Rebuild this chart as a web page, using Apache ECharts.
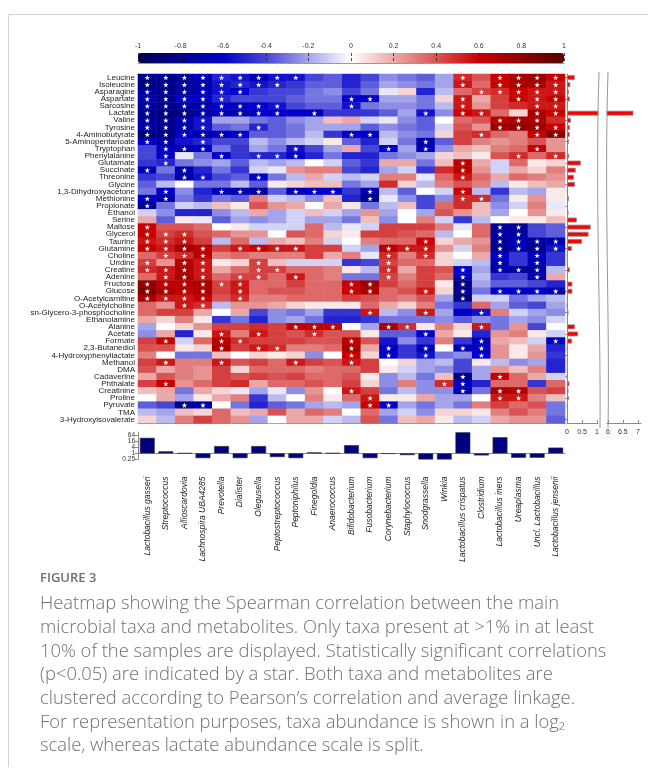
<!DOCTYPE html>
<html><head><meta charset="utf-8">
<script src="https://cdn.jsdelivr.net/npm/echarts@6/dist/echarts.min.js"></script>
<style>html,body{margin:0;padding:0;background:#fff}#c{width:648px;height:774px}</style>
</head><body><div id="c"></div>
<script>
const metabolites = ['Leucine','Isoleucine','Asparagine','Aspartate','Sarcosine','Lactate','Valine','Tyrosine','4-Aminobutyrate','5-Aminopentanoate','Tryptophan','Phenylalanine','Glutamate','Succinate','Threonine','Glycine','1,3-Dihydroxyacetone','Methionine','Propionate','Ethanol','Serine','Maltose','Glycerol','Taurine','Glutamine','Choline','Uridine','Creatine','Adenine','Fructose','Glucose','O-Acetylcarnitine','O-Acetylcholine','sn-Glycero-3-phosphocholine','Ethanolamine','Alanine','Acetate','Formate','2,3-Butanediol','4-Hydroxyphenyllactate','Methanol','DMA','Cadaverine','Phthalate','Creatinine','Proline','Pyruvate','TMA','3-Hydroxyisovalerate'];

const taxa = ['Lactobacillus gasseri','Streptococcus','Allioscardovia','Lachnospira UBA4285','Prevotella','Dialister','Olegusella','Peptostreptococcus','Peptoniphilus','Finegoldia','Anaerococcus','Bifidobacterium','Fusobacterium','Corynebacterium','Staphylococcus','Snodgrassella','Winkia','Lactobacillus crispatus','Clostridium','Lactobacillus iners','Ureaplasma','Uncl. Lactobacillus','Lactobacillus jensenii'];

// Spearman correlation, one row per metabolite, one column per taxon
const corr = [
[-0.8,-0.8,-0.75,-0.65,-0.5,-0.55,-0.65,-0.55,-0.55,-0.4,-0.35,-0.5,-0.4,-0.25,-0.3,-0.35,-0.2,0.5,0.4,0.6,0.7,0.75,0.6],
[-0.85,-0.8,-0.75,-0.7,-0.55,-0.5,-0.55,-0.5,-0.45,-0.35,-0.35,-0.5,-0.35,-0.2,-0.25,-0.3,-0.2,0.55,0.35,0.6,0.7,0.7,0.55],
[-0.75,-0.8,-0.75,-0.65,-0.55,-0.6,-0.45,-0.4,-0.4,-0.3,-0.25,-0.4,-0.3,-0.05,0.1,-0.5,-0.15,0.35,0.45,0.5,0.6,0.55,0.55],
[-0.7,-0.8,-0.6,-0.6,-0.5,-0.4,-0.4,-0.4,-0.35,-0.3,-0.3,-0.6,-0.6,-0.2,-0.2,-0.3,0.1,0.55,0.2,0.45,0.6,0.55,0.6],
[-0.75,-0.8,-0.75,-0.75,-0.6,-0.65,-0.6,-0.55,-0.4,-0.35,-0.35,-0.55,-0.3,-0.25,-0.25,-0.3,-0.15,0.55,0.25,0.45,0.5,0.55,0.55],
[-0.8,-0.85,-0.85,-0.7,-0.7,-0.7,-0.6,-0.6,-0.6,-0.65,-0.45,-0.45,-0.45,-0.35,-0.2,-0.55,-0.25,0.6,0.55,0.35,0.1,0.7,0.6],
[-0.75,-0.8,-0.7,-0.55,-0.2,-0.2,-0.3,-0.35,-0.25,-0.2,0.15,0.2,-0.1,-0.05,-0.25,-0.35,0,0.35,0.4,0.65,0.7,0.7,0.5],
[-0.7,-0.8,-0.7,-0.55,-0.35,-0.3,-0.5,-0.35,-0.3,-0.2,-0.2,-0.2,-0.35,-0.25,-0.3,-0.35,-0.1,0.4,0.25,0.75,0.8,0.75,0.6],
[-0.9,-0.8,-0.6,-0.7,-0.65,-0.6,-0.35,-0.35,-0.3,-0.15,-0.45,-0.6,-0.6,-0.15,-0.25,-0.3,0.1,0.45,0.5,0.35,0.3,0.6,0.85],
[-0.6,-0.75,-0.55,-0.5,-0.4,-0.4,-0.15,-0.25,-0.15,-0.1,0.05,-0.35,-0.5,-0.1,-0.3,-0.7,-0.35,0.45,0.3,0.25,0.3,0.4,0.25],
[-0.4,-0.6,-0.7,-0.6,-0.3,-0.45,-0.2,-0.3,-0.55,-0.4,-0.2,0.2,-0.4,-0.6,-0.2,-0.65,-0.25,0.2,0.15,0.3,0.35,0.6,0.25],
[-0.4,-0.6,-0.05,-0.3,-0.6,-0.45,-0.5,-0.5,-0.6,-0.5,-0.3,-0.5,-0.5,-0.3,-0.25,-0.2,0.1,0.15,0.05,0.4,0.5,0.35,0.5],
[-0.45,-0.5,-0.3,-0.25,-0.2,-0.35,-0.15,-0.2,-0.15,0,-0.1,-0.35,-0.45,0.2,0.2,-0.3,0.15,0.65,0.2,-0.1,0.35,0.05,0.1],
[-0.65,-0.3,-0.7,-0.5,-0.3,-0.45,-0.1,-0.05,0.25,0.3,0.3,-0.4,-0.5,-0.2,-0.1,-0.45,0.5,0.65,0.25,-0.1,0.2,0.1,0.3],
[-0.45,-0.4,-0.7,-0.55,-0.4,-0.35,-0.6,-0.3,-0.15,0.2,-0.1,-0.15,-0.1,0.3,0.3,-0.05,0.35,0.55,0.35,0.2,0.35,0.3,0.25],
[-0.35,-0.15,0,-0.3,-0.3,-0.15,-0.35,0.05,0.1,0.15,0.15,-0.3,-0.2,0.5,0.1,-0.15,0.3,0.4,0.3,-0.15,0.05,0.15,0.2],
[-0.3,-0.6,-0.25,-0.5,-0.65,-0.7,-0.75,-0.35,-0.65,-0.6,-0.6,-0.45,-0.7,-0.15,-0.35,0,-0.1,0.6,-0.15,-0.45,-0.15,-0.2,0.05],
[-0.6,-0.7,-0.3,-0.45,-0.3,-0.35,0.3,-0.1,-0.15,-0.25,0.15,-0.5,-0.8,-0.05,-0.25,-0.4,-0.25,0.5,0.5,-0.3,0.05,0.25,0.05],
[-0.75,-0.3,-0.1,-0.15,0.15,0.05,0.4,0.25,0.2,0,0.2,0.05,-0.3,-0.15,0.15,-0.4,0.35,0.5,0.15,-0.25,-0.1,0.3,-0.05],
[-0.1,-0.25,-0.5,-0.5,-0.25,-0.15,0.2,-0.2,-0.1,0.15,-0.1,-0.2,0.25,-0.2,0,-0.2,0.4,0.25,0.15,-0.2,0,0.25,0.05],
[0.2,-0.35,0.05,-0.05,-0.35,-0.2,-0.25,-0.2,-0.1,-0.2,-0.2,-0.3,0.15,-0.25,0,0.3,-0.1,-0.45,-0.15,0,0.05,0.05,0.15],
[0.6,0.4,0.4,0.35,0,0.05,-0.1,-0.1,-0.1,0.35,-0.15,-0.05,-0.1,0.45,0.45,0.45,0.3,-0.05,0.35,-0.75,-0.75,-0.4,-0.35],
[0.6,0.45,0.5,0.4,0.35,0.25,0.25,0,0.4,0.35,0.1,0.05,0.45,0.45,0.4,0.35,-0.15,0,0.35,-0.75,-0.75,-0.4,-0.35],
[0.55,0.5,0.55,0.45,-0.15,0.35,-0.15,0.2,0.15,0.3,-0.1,0,0.3,0.35,0.35,0.6,0.1,0.2,0.25,-0.75,-0.65,-0.75,-0.7],
[0.6,0.55,0.75,0.65,0.45,0.55,0.6,0.55,0.55,0.45,0.45,-0.1,-0.2,0.65,0.55,0.55,0.25,-0.1,0.3,-0.8,-0.7,-0.8,-0.55],
[0.35,0.45,0.5,0.65,0.3,0.35,0.3,0.3,0.3,0.45,0.2,0.3,-0.05,0.5,0.3,0.5,0.1,0,0.2,-0.6,-0.45,-0.65,-0.45],
[0.45,0.25,0.65,0.55,0.05,0.1,0.45,0.15,-0.1,-0.1,-0.1,-0.45,-0.4,0.45,0.35,0.35,0.1,-0.1,-0.15,-0.7,-0.45,-0.65,-0.45],
[0.5,0.55,0.7,0.55,0.2,0.35,0.45,0.45,0.35,0.35,0.3,0.05,-0.15,0.5,0.2,0.45,0.4,-0.6,-0.2,-0.7,-0.75,-0.75,-0.15],
[0.35,0.55,0.7,0.55,0.35,0.45,0.45,0.35,0.55,0.35,0.3,-0.3,-0.3,0.45,0.3,0.45,0.35,-0.65,-0.15,-0.45,-0.4,-0.7,0.2],
[0.8,0.65,0.65,0.7,0.45,0.55,0.35,0.35,0.45,0.35,0.35,0.6,0.75,0.45,0.35,0.45,0.05,-0.85,-0.2,-0.35,-0.35,-0.4,-0.5],
[0.85,0.7,0.65,0.7,0.45,0.55,0.35,0.4,0.4,0.35,0.35,0.6,0.7,0.35,0.4,0.55,0.1,-0.8,-0.3,-0.6,-0.6,-0.6,-0.7],
[0.7,0.55,0.55,0.6,0.4,0.5,0.3,0.3,0.35,0.35,0.35,0.45,0.4,0.35,0.3,0.4,-0.2,-0.85,-0.1,-0.1,-0.3,-0.2,-0.15],
[0.35,0.25,0.55,0.5,-0.15,0.25,0.25,0.2,0.1,0.05,0.05,0.05,0.35,0.2,0.1,0.3,-0.3,-0.45,0.35,-0.2,-0.35,-0.4,-0.2],
[0.35,0.45,0.45,0.2,0,0.2,-0.4,-0.25,-0.3,-0.2,-0.45,-0.45,0.55,-0.15,-0.25,0.55,-0.2,-0.6,-0.55,0.3,-0.1,-0.2,-0.25],
[0.2,0.1,0.3,0.05,-0.45,-0.3,-0.5,-0.25,-0.2,-0.3,-0.5,-0.5,-0.45,-0.3,-0.3,-0.3,-0.25,-0.35,-0.25,-0.3,-0.2,-0.25,-0.1],
[-0.2,0,0.1,0.25,0.45,0.45,0.5,0.45,0.6,0.6,0.6,0,-0.2,0.7,0.5,0.05,0.3,0.1,0.55,-0.3,0.25,-0.4,0],
[-0.25,0.2,-0.5,0.05,0.55,0.3,0.55,0.45,0.4,0.5,0.4,0.4,0.05,-0.35,-0.35,-0.6,0.2,0.05,-0.5,0.25,0.3,0.05,-0.1],
[0.45,0.6,-0.1,0.35,0.65,0.5,0.45,0.45,0.45,0.4,0.4,0.65,0.4,-0.55,-0.25,-0.45,0.3,-0.45,-0.7,0.2,0.15,-0.1,-0.65],
[0.4,0.4,0.05,0.1,0.7,0.45,0.55,0.5,0.3,0.3,0.35,0.7,0.2,-0.6,-0.45,-0.65,0,-0.7,-0.6,0.25,0.05,0.2,-0.5],
[0.3,0,-0.3,-0.3,0.15,0,0.1,0.05,0.1,-0.25,0,0.6,0.1,-0.6,-0.45,-0.55,-0.3,-0.25,-0.6,0.25,0.05,0.25,-0.45],
[0.45,0.55,0.3,0.3,0.55,0.4,0.45,0.35,0.55,0.45,0.4,0.55,0.45,0,0.1,-0.2,-0.15,-0.4,0.05,-0.15,-0.25,-0.2,-0.5],
[0.4,0.2,0.3,0.25,0.45,0.1,0.35,0.35,0.35,0.3,0.35,0.35,0.45,0.05,-0.1,-0.2,-0.25,-0.4,-0.2,0.25,0.15,0.3,-0.5],
[0.2,0.4,0.3,0.25,0.45,0.4,0.45,0.4,0.45,0.35,0.35,0.4,0.05,-0.25,-0.15,-0.3,0.15,-0.85,-0.2,0.6,0.35,0.2,-0.1],
[0.45,0.6,0.25,0.35,0.45,0.5,0.2,0.35,0.35,0.4,0.35,0.45,0.1,-0.25,0.3,-0.25,0.5,-0.65,-0.5,0.35,0.35,-0.45,0.35],
[0.15,0.2,-0.3,0.2,0.1,-0.05,-0.2,-0.05,-0.25,0.25,0,0.55,0.45,-0.3,-0.15,-0.25,-0.25,-0.7,-0.3,0.7,0.65,0.4,0.45],
[0,0.2,-0.2,0.05,0.2,0.3,-0.45,-0.15,0,0.3,0.05,0.35,0.55,0.05,0.05,0.2,-0.2,-0.2,0,0.55,0.55,0.3,0.15],
[-0.35,-0.4,-0.8,-0.7,0,-0.3,-0.5,-0.35,-0.3,-0.2,-0.15,-0.2,0.6,-0.6,-0.2,-0.3,-0.2,-0.3,0.3,0.45,0.35,0.4,-0.3],
[-0.15,-0.2,0.15,0.1,0.35,0.15,0.2,0.4,0.2,0.35,0.3,0,0.35,-0.2,-0.1,-0.25,0.1,0.1,0.05,0.3,0.4,0.3,-0.3],
[0.1,-0.15,0.3,0.45,0.35,0.25,-0.2,0,0.2,0.2,-0.1,-0.15,0.4,-0.3,0.15,0.2,0.05,-0.15,-0.1,0.2,0.25,0.25,-0.35]
];

// columns (taxon index) with p<0.05, per metabolite row
const sigCols = [
[0,1,2,3,4,5,6,7,8,17,19,20,21,22],[0,1,2,3,4,5,6,7,17,19,20,21,22],[0,1,2,3,4,5,18,19,20,21,22],
[0,1,2,3,4,11,12,17,20,21,22],[0,1,2,3,4,5,6,7,11,17,21,22],[0,1,2,3,4,5,6,7,9,15,17,18,21,22],
[0,1,2,3,19,20,21],[0,1,2,3,6,19,20,21,22],[0,1,2,3,4,5,11,12,18,21,22],[0,1,3,15],
[1,2,3,8,13,15,21],[1,4,6,7,8,20,22],[1,17],[0,2,17],[2,3,6,17],[],[1,4,5,6,8,9,10,12,17],
[0,1,12,17,18],[0],[],[],[0,19,20],[0,1,2,19,20],[0,1,2,15,19,20,21,22],
[0,1,2,3,5,6,7,8,13,14,15,19,20,21,22],[1,2,3,13,15,19,21],[0,2,3,6,13,19,21],
[0,1,2,3,6,7,13,17,19,20,21],[1,2,3,5,6,8,13,17,21],[0,1,2,3,4,5,11,12,17],
[0,1,2,3,5,11,12,15,17,19,20,21,22],[0,1,2,3,5,17],[2,3],[12,15,18],[],
[8,9,10,13,14,18],[4,6,9,15],[1,4,5,11,18,22],[4,6,7,11,13,15,17,18],[11,13,15,18],
[1,4,8,11],[],[17,19],[1,16,17],[11,17,19,20],[12,19,20],[2,3,12,13],[],[]
];

// metabolite abundance (right bars), lactate scale split
const metaboliteAbundance = [0.26,0.11,0.06,0.09,0.02,6.85,0.13,0.09,0.09,0.06,0.03,0.07,0.46,0.29,0.23,0.27,0.02,0.06,0.03,0.05,0.33,0.79,0.72,0.5,0.16,0.02,0.03,0.09,0.03,0.18,0.18,0.02,0.01,0.05,0.03,0.27,0.37,0.17,0.02,0.03,0.02,0.02,0.01,0.08,0.05,0.06,0.02,0.03,0.02];

// taxa abundance (bottom bars), shown on log2 scale
const taxaAbundance = [34,1.6,1.03,0.34,5.3,0.34,5.3,0.43,0.34,1.25,1.07,6.5,0.34,0.93,0.68,0.25,0.25,120,0.63,39,0.37,0.37,3.7];

const colorbarTicks = [-1,-0.8,-0.6,-0.4,-0.2,0,0.2,0.4,0.6,0.8,1];
const lowSegmentTicks = [0,0.5,1];
const highSegmentTicks = [6,6.5,7];
const taxaLog2TicksA = [-2,2,6];   // 0.25, 4, 64
const taxaLog2TicksB = [0,4];      // 1, 16

const captionTitle = 'FIGURE 3';
const captionLines = [
 'Heatmap showing the Spearman correlation between the main',
 'microbial taxa and metabolites. Only taxa present at >1% in at least',
 '10% of the samples are displayed. Statistically significant correlations',
 '(p<0.05) are indicated by a star. Both taxa and metabolites are',
 'clustered according to Pearson\u2019s correlation and average linkage.',
 'For representation purposes, taxa abundance is shown in a log\u2082',
 'scale, whereas lactate abundance scale is split.'
];

const heatData = [];
corr.forEach((row, i) => row.forEach((v, j) => heatData.push([j, i, v])));
const starData = [];
sigCols.forEach((cols, i) => cols.forEach(j => starData.push([j, i])));

const STAR = 'path://M50,0 L61,35 L98,35 L68,57 L79,91 L50,70 L21,91 L32,57 L2,35 L39,35 Z';
const AX = '#8a8a8a';
const FONT = '"Liberation Sans", Arial, sans-serif';

const chart = echarts.init(document.getElementById('c'), null, {renderer: 'canvas'});

const capGraphics = [
  {type:'line', shape:{x1:8.5,y1:14.5,x2:648,y2:14.5}, style:{stroke:'#d2d2d2', lineWidth:1}},
  {type:'line', shape:{x1:8.5,y1:14.5,x2:8.5,y2:767}, style:{stroke:'#d2d2d2', lineWidth:1}},
  {type:'text', x:40, y:572, style:{text:captionTitle, font:'600 13px "Open Sans", sans-serif', fill:'#6f6f6f'}},
  {type:'bezierCurve', shape:{x1:599,y1:72,cpx1:595,cpy1:200,cpx2:601,cpy2:320,x2:600,y2:428}, style:{stroke:'#999', lineWidth:1, fill:null}},
  {type:'bezierCurve', shape:{x1:608,y1:72,cpx1:604,cpy1:200,cpx2:610,cpy2:320,x2:608,y2:428}, style:{stroke:'#999', lineWidth:1, fill:null}}
];
captionLines.forEach((t, k) => capGraphics.push({
  type:'text', x:40, y:595 + k*23.7,
  style:{text:t, font:'300 18.4px "Open Sans", sans-serif', fill:'#707070'}
}));

const log2Label = v => String(Math.pow(2, v));

const option = {
  animation: false,
  backgroundColor: '#fff',
  textStyle: {fontFamily: FONT},
  grid: [
    {left:138, top:74, width:427, height:349},
    {left:138, top:53, width:426, height:10},
    {left:567, top:74, width:31, height:349},
    {left:607, top:74, width:34, height:349},
    {left:138, top:432, width:427, height:27.5}
  ],
  visualMap: [{
    type:'continuous', min:-1, max:1, seriesIndex:0, dimension:2,
    orient:'horizontal', left:138, top:53, itemWidth:10, itemHeight:426,
    padding:0, calculable:false, hoverLink:false, showLabel:false, text:null,
    inRange:{color:['#00004a','#000090','#0000c8','#4646d6','#a4a4ea','#ffffff','#eaa8a8','#d85454','#c80000','#900000','#560000']}
  }],
  xAxis: [
    {gridIndex:0, type:'category', data:taxa, position:'top',
      axisLine:{lineStyle:{color:AX}}, axisTick:{inside:true, length:3, alignWithLabel:true, lineStyle:{color:AX}},
      axisLabel:{show:false}, splitLine:{show:false}},
    {gridIndex:0, type:'category', data:taxa, position:'bottom',
      axisLine:{lineStyle:{color:AX}}, axisTick:{inside:true, length:3, alignWithLabel:true, lineStyle:{color:AX}},
      axisLabel:{show:false}, splitLine:{show:false}},
    {gridIndex:1, type:'value', min:-1, max:1, interval:0.2, position:'top', z:10,
      axisLine:{show:true, lineStyle:{color:'#999'}}, axisTick:{show:false},
      axisLabel:{fontSize:7, color:'#333', margin:3, customValues:colorbarTicks, formatter:v => String(Math.round(v*10)/10)},
      splitLine:{show:true, lineStyle:{color:'#222', type:[3,2], width:0.8}}},
    {gridIndex:2, type:'value', min:0, max:31/30, position:'bottom',
      axisLine:{show:true, lineStyle:{color:AX}},
      axisTick:{show:true, inside:true, length:3, customValues:lowSegmentTicks, lineStyle:{color:AX}},
      axisLabel:{fontSize:7, color:'#333', margin:6, customValues:lowSegmentTicks, showMinLabel:true, showMaxLabel:true},
      splitLine:{show:false}},
    {gridIndex:3, type:'value', min:5.97, max:5.97 + 34/30, position:'bottom',
      axisLine:{show:true, lineStyle:{color:AX}},
      axisTick:{show:true, inside:true, length:3, customValues:highSegmentTicks, lineStyle:{color:AX}},
      axisLabel:{fontSize:7, color:'#333', margin:6, customValues:highSegmentTicks, showMinLabel:true, showMaxLabel:true},
      splitLine:{show:false}},
    {gridIndex:4, type:'category', data:taxa,
      axisLine:{onZero:true, lineStyle:{color:AX}}, axisTick:{show:false},
      axisLabel:{interval:0, rotate:90, fontSize:8.5, fontStyle:'italic', color:'#222', margin:17}}
  ],
  yAxis: [
    {gridIndex:0, type:'category', data:metabolites, inverse:true,
      axisLine:{lineStyle:{color:AX}}, axisTick:{inside:true, length:3, alignWithLabel:true, lineStyle:{color:AX}},
      axisLabel:{interval:0, fontSize:8, color:'#222', margin:3}, splitLine:{show:false}},
    {gridIndex:1, type:'value', min:0, max:1, show:false},
    {gridIndex:2, type:'category', data:metabolites, inverse:true,
      axisLine:{lineStyle:{color:AX}}, axisTick:{show:true, length:2, alignWithLabel:true, lineStyle:{color:AX}},
      axisLabel:{show:false}},
    {gridIndex:3, type:'category', data:metabolites, inverse:true, show:false},
    {gridIndex:4, type:'value', min:-2, max:7, position:'left',
      axisLine:{show:true, lineStyle:{color:AX}},
      axisTick:{show:true, length:3, customValues:taxaLog2TicksA, lineStyle:{color:AX}},
      axisLabel:{fontSize:6.5, color:'#333', margin:3, customValues:taxaLog2TicksA,
        showMinLabel:true, showMaxLabel:true, formatter:log2Label},
      splitLine:{show:false}},
    {gridIndex:4, type:'value', min:-2, max:7, position:'left', offset:0,
      axisLine:{show:false},
      axisTick:{show:true, length:3, customValues:taxaLog2TicksB, lineStyle:{color:AX}},
      axisLabel:{fontSize:6.5, color:'#333', margin:3, customValues:taxaLog2TicksB, formatter:log2Label},
      splitLine:{show:false}}
  ],
  series: [
    {type:'heatmap', xAxisIndex:0, yAxisIndex:0, data:heatData, emphasis:{disabled:true}},
    {type:'scatter', xAxisIndex:0, yAxisIndex:0, data:starData, symbol:STAR, symbolSize:5.5,
      itemStyle:{color:'#fff', opacity:1}, z:5, silent:true},
    {type:'bar', xAxisIndex:3, yAxisIndex:2, data:metaboliteAbundance, barWidth:'68%',
      itemStyle:{color:'#ff0000', borderColor:'#8a8a8a', borderWidth:0.8}, silent:true},
    {type:'bar', xAxisIndex:4, yAxisIndex:3, data:metaboliteAbundance, barWidth:'68%',
      itemStyle:{color:'#ff0000', borderColor:'#8a8a8a', borderWidth:0.8}, silent:true},
    {type:'bar', xAxisIndex:5, yAxisIndex:4, data:taxaAbundance.map(v => Math.log2(v)), barWidth:'80%',
      itemStyle:{color:'#000080', borderColor:'#333', borderWidth:0.6}, silent:true}
  ],
  graphic: capGraphics
};
chart.setOption(option);
</script>
</body></html>
